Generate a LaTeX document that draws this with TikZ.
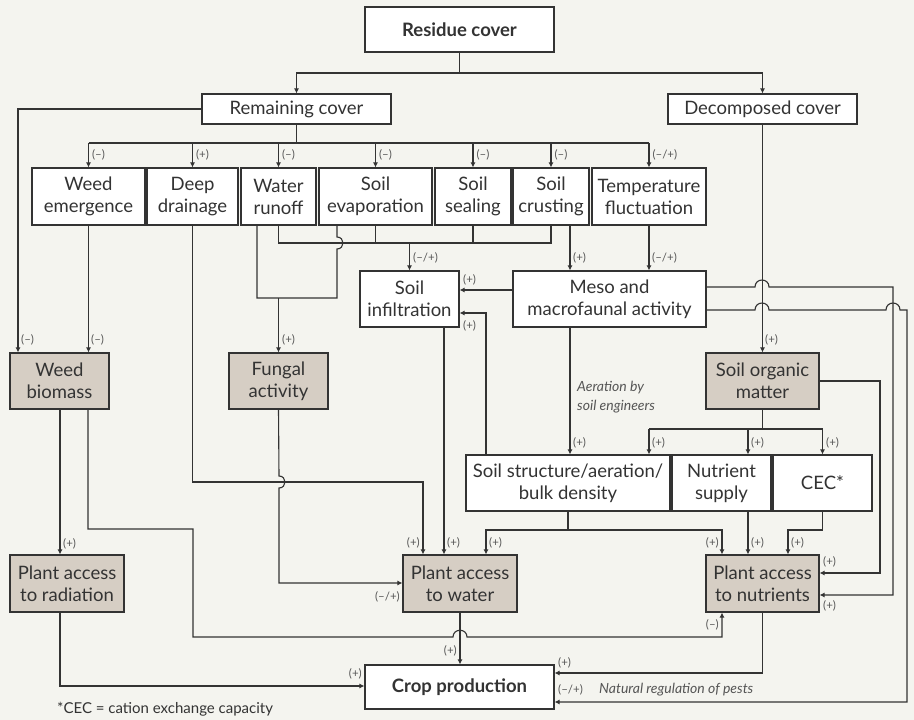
\documentclass[tikz,border=0pt]{standalone}
\usepackage{fontspec}
\setmainfont{Lato}
\usetikzlibrary{arrows.meta,calc}
\definecolor{bgc}{HTML}{F4F4EF}
\definecolor{shade}{HTML}{D6CEC4}
\definecolor{lnc}{HTML}{333333}
\definecolor{txc}{HTML}{333333}
\definecolor{labc}{HTML}{555555}
\tikzset{
  boxw/.style={draw=lnc, line width=1.1pt, fill=white, inner sep=0pt, align=center, text=txc,
     font=\fontsize{18.5}{22}\selectfont},
  boxs/.style={boxw, fill=shade},
  boxb/.style={boxw, font=\fontsize{18.5}{22}\selectfont\bfseries},
  ln/.style={draw=lnc, line width=1.1pt},
  arr/.style={ln, -{Latex[length=5pt,width=5pt]}},
  lab/.style={text=labc, inner sep=0pt, font=\fontsize{11.5}{13}\selectfont},
  itl/.style={text=labc, inner sep=0pt, align=left, font=\fontsize{14}{19}\selectfont\itshape},
}
\newcommand\mkbox[7][boxw]{%
  \pgfmathsetmacro\bxcx{(#3+#5)/2}\pgfmathsetmacro\bxcy{(#4+#6)/2}%
  \pgfmathsetmacro\bxw{#5-#3}\pgfmathsetmacro\bxh{#6-#4}%
  \node[#1, minimum width=\bxw pt, minimum height=\bxh pt] (#2) at (\bxcx,\bxcy) {#7};}
\begin{document}
\begin{tikzpicture}[x=1pt,y=-1pt]
\fill[bgc] (0,0) rectangle (914,720);
\useasboundingbox (0,0) rectangle (914,720);
% boxes
\mkbox[boxb]{res}{365}{7}{554}{52}{Residue cover}
\mkbox{rem}{202}{94}{391}{124}{Remaining cover}
\mkbox{dec}{668}{94}{857}{124}{Decomposed cover}
\mkbox{we}{32}{168}{145}{225}{Weed\\emergence}
\mkbox{dd}{147}{168}{238}{225}{Deep\\drainage}
\mkbox{wr}{241}{168}{316}{225}{Water\\runoff}
\mkbox{se}{319}{168}{432}{225}{Soil\\evaporation}
\mkbox{ss}{435}{168}{511}{225}{Soil\\sealing}
\mkbox{sc}{513}{168}{589}{225}{Soil\\crusting}
\mkbox{tf}{592}{168}{706}{225}{Temperature\\fluctuation}
\mkbox{si}{360}{271}{459}{327}{Soil\\infiltration}
\mkbox{meso}{513}{271}{706}{327}{Meso and\\macrofaunal activity}
\mkbox[boxs]{wb}{10}{353}{109}{409}{Weed\\biomass}
\mkbox[boxs]{fa}{229}{353}{328}{409}{Fungal\\activity}
\mkbox[boxs]{som}{706}{353}{819}{409}{Soil organic\\matter}
\mkbox{sst}{466}{455}{670}{511}{Soil structure/aeration/\\bulk density}
\mkbox{ns}{672}{455}{771}{511}{Nutrient\\supply}
\mkbox{cec}{773}{455}{872}{511}{CEC*}
\mkbox[boxs]{par}{10}{555}{124}{612}{Plant access\\to radiation}
\mkbox[boxs]{paw}{403}{555}{517}{612}{Plant access\\to water}
\mkbox[boxs]{pan}{706}{555}{819}{612}{Plant access\\to nutrients}
\mkbox[boxb]{crop}{365}{665}{554}{709}{Crop production}
% residue split
\draw[ln] (res.south) -- (res.south |- 0,73) coordinate (rj);
\draw[arr] (rj) -| (rem.north);
\draw[arr] (rj) -| (dec.north);
% remaining cover -> weed biomass
\draw[arr] (rem.west) -| (18,0 |- wb.north);
\node[lab, anchor=west] (l01) at (21,340) {(--)};
% remaining cover bus
\draw[ln] (rem.south) -- (rem.south |- 0,143) coordinate (b1);
\draw[ln] (we.north |- b1) -- (tf.north |- b1);
\foreach \n/\l [count=\i] in {we/{(--)},dd/{(+)},wr/{(--)},se/{(--)},ss/{(--)},sc/{(--)},tf/{(--/+)}}
  \draw[arr] (\n.north |- b1) -- node[lab, anchor=west, xshift=3pt] (lt\i) {\l} (\n.north);
% weed emergence -> weed biomass
\draw[arr] (we.south) -- (we.south |- wb.north);
\node[lab, anchor=west] (l02) at (91,340) {(--)};
% deep drainage -> water
\draw[arr] (dd.south) |- (423,482) -- (423,0 |- paw.north);
\node[lab, anchor=east] (l03) at (420,543) {(+)};
% runoff/evaporation -> fungal
\draw[ln] (257,0 |- wr.south) -- (257,298) -- (337,298) -- (337,249)
   .. controls (345,249) and (345,237) .. (337,237) -- (337,0 |- se.south);
\draw[arr] (fa.north |- 0,298) -- (fa.north);
\node[lab, anchor=west] (l04) at (282,340) {(+)};
% bus 2 -> infiltration
\draw[ln] (wr.south) |- (sc.south |- 0,243) -- (sc.south);
\draw[ln] (se.south) -- (se.south |- 0,243);
\draw[ln] (ss.south) -- (ss.south |- 0,243);
\draw[arr] (si.north |- 0,243) -- (si.north);
\node[lab, anchor=west] (l05) at (413,258) {(--/+)};
% crusting, temperature -> meso
\draw[arr] (570,0 |- sc.south) -- (570,0 |- meso.north);
\node[lab, anchor=west] (l06) at (573,258) {(+)};
\draw[arr] (tf.south) -- (tf.south |- meso.north);
\node[lab, anchor=west] (l07) at (652,258) {(--/+)};
% meso -> infiltration
\draw[arr] (meso.west |- 0,290) -- (si.east |- 0,290);
\node[lab, anchor=west] (l08) at (463,280) {(+)};
\draw[arr] (486,0 |- sst.north) |- (si.east |- 0,313);
\node[lab, anchor=west] (l09) at (463,326) {(+)};
% meso -> soil structure
\draw[arr] (570,0 |- meso.south) -- (570,0 |- sst.north);
\node[lab, anchor=west] (l10) at (573,443) {(+)};
\node[itl, anchor=west] (aer) at (577,397) {Aeration by\\soil engineers};
% infiltration -> water
\draw[arr] (444,0 |- si.south) -- (444,0 |- paw.north);
\node[lab, anchor=west] (l11) at (447,543) {(+)};
% decomposed -> SOM
\draw[arr] (dec.south) -- (som.north);
\node[lab, anchor=west] (l12) at (765,340) {(+)};
% meso -> nutrients and crop (long lines)
\draw[arr] (meso.east |- 0,287) -- (755,287) .. controls (755,277.7) and (769,277.7) .. (769,287)
   -- (893,287) -- (893,595) -- (pan.east |- 0,595);
\node[lab, anchor=west] (l13) at (823,606) {(+)};
\draw[arr] (meso.east |- 0,310) -- (755,310) .. controls (755,300.7) and (769,300.7) .. (769,310)
   -- (886,310) .. controls (886,300.7) and (900,300.7) .. (900,310) -- (907,310) -- (907,702)
   -- (crop.east |- 0,702);
\node[lab, anchor=west] (l14) at (558,690) {(--/+)};
\node[itl, anchor=west] (nat) at (599,690) {Natural regulation of pests};
% SOM -> nutrients
\draw[arr] (som.east |- 0,381) -| (880,573) -- (pan.east |- 0,573);
\node[lab, anchor=west] (l15) at (823,562) {(+)};
% SOM bus
\draw[ln] (som.south) -- (som.south |- 0,429) coordinate (b3);
\draw[ln] (649,429) -- (cec.north |- b3);
\draw[arr] (649,429) -- (649,0 |- sst.north);
\draw[arr] (748,429) -- (748,0 |- ns.north);
\draw[arr] (cec.north |- b3) -- (cec.north);
\node[lab, anchor=west] (l16) at (652,443) {(+)};
\node[lab, anchor=west] (l17) at (751,443) {(+)};
\node[lab, anchor=west] (l18) at (826,443) {(+)};
% soil structure -> water, nutrients
\draw[ln] (sst.south) -- (sst.south |- 0,530) coordinate (b4);
\draw[arr] (b4) -| (486,0 |- paw.north);
\draw[arr] (b4) -| (722,0 |- pan.north);
\node[lab, anchor=west] (l19) at (489,543) {(+)};
\node[lab, anchor=east] (l20) at (719,543) {(+)};
% nutrient supply, CEC -> nutrients
\draw[arr] (748,0 |- ns.south) -- (748,0 |- pan.north);
\node[lab, anchor=west] (l21) at (751,543) {(+)};
\draw[arr] (cec.south) |- (788,530) -- (788,0 |- pan.north);
\node[lab, anchor=west] (l22) at (791,543) {(+)};
% weed biomass -> radiation, nutrients
\draw[arr] (60,0 |- wb.south) -- (60,0 |- par.north);
\node[lab, anchor=west] (l23) at (63,544) {(+)};
\draw[arr] (88,0 |- wb.south) |- (193,529) |- (453,637)
   .. controls (453,628) and (467,628) .. (467,637) -| (722,0 |- pan.south);
\node[lab, anchor=east] (l24) at (719,625) {(--)};
% fungal -> water
\draw[arr] (fa.south) -- (279,476) .. controls (287,476) and (287,488) .. (279,488) |- (paw.west |- 0,583);
\node[lab, anchor=east] (l25) at (400,597) {(--/+)};
% water -> crop
\draw[arr] (paw.south) -- (paw.south |- crop.north);
\node[lab, anchor=east] (l26) at (457,651) {(+)};
% radiation -> crop
\draw[arr] (60,0 |- par.south) |- (crop.west |- 0,686);
\node[lab, anchor=east] (l27) at (362,674) {(+)};
% nutrients -> crop
\draw[arr] (pan.south) |- (crop.east |- 0,673);
\node[lab, anchor=west] (l28) at (558,663) {(+)};
% footnote
\node[text=txc, inner sep=0pt, anchor=west, font=\fontsize{15}{18}\selectfont] (fn) at (57,709) {*CEC = cation exchange capacity};
\end{tikzpicture}
\end{document}
